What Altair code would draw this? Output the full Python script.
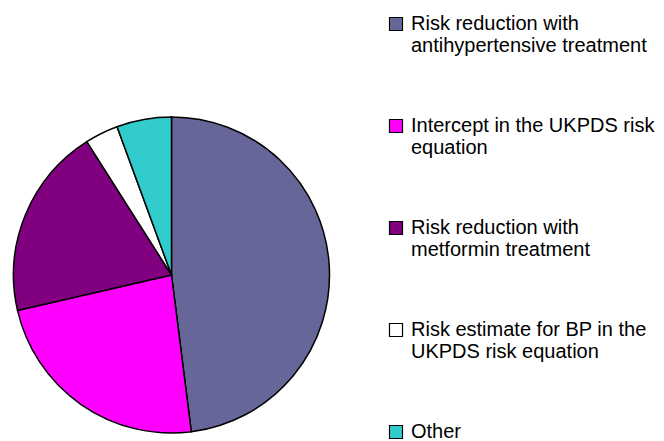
import altair as alt
import pandas as pd

categories = [
    "Risk reduction with|antihypertensive treatment",
    "Intercept in the UKPDS risk|equation",
    "Risk reduction with|metformin treatment",
    "Risk estimate for BP in the|UKPDS risk equation",
    "Other",
]
shares = [48.0, 23.4, 19.6, 3.4, 5.6]
colors = ["#666699", "#FF00FF", "#800080", "#FFFFFF", "#33CCCC"]

df = pd.DataFrame({"category": categories, "share": shares, "order": list(range(len(categories)))})

pie = alt.Chart(df).mark_arc(radius=158, stroke="black", strokeWidth=1.5).encode(
    theta=alt.Theta("share:Q", stack=True),
    order=alt.Order("order:Q"),
    x=alt.value(171.5),
    y=alt.value(275),
    color=alt.Color(
        "category:N",
        sort=categories,
        scale=alt.Scale(domain=categories, range=colors),
        legend=alt.Legend(
            title=None,
            orient="none",
            legendX=386,
            legendY=14,
            symbolType="square",
            symbolSize=169,
            symbolStrokeColor="black",
            symbolStrokeWidth=1.2,
            labelFont="Liberation Sans",
            labelFontSize=20,
            labelColor="black",
            labelLimit=300,
            labelExpr="split(datum.label, '|')",
            rowPadding=60,
            labelOffset=5,
        ),
    ),
).properties(width=664, height=441, padding=0, autosize="none")

chart = pie.configure_view(stroke=None)
chart.save("out.html", embed_options={"renderer": "svg", "actions": False})
